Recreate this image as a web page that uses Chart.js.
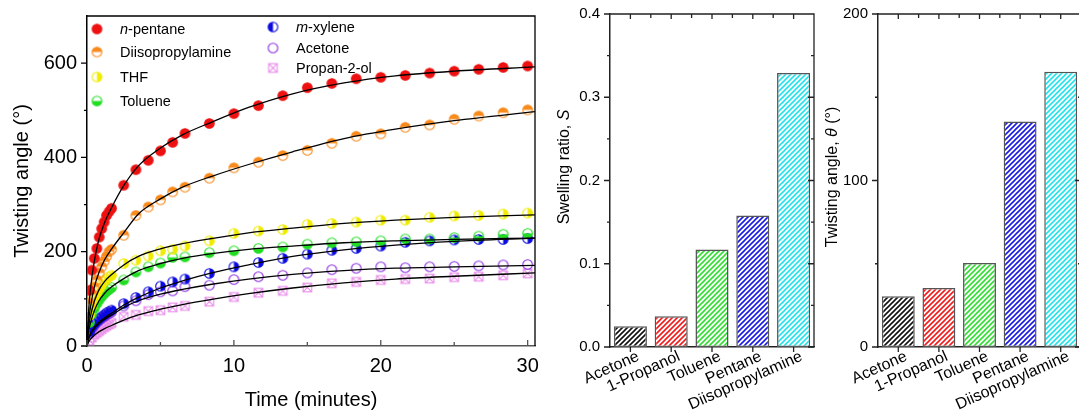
<!DOCTYPE html>
<html lang="en">
<head>
<meta charset="UTF-8">
<title>Twisting kinetics and swelling</title>
<script src="https://cdn.jsdelivr.net/npm/chart.js"></script>
<style>
  html, body { margin: 0; padding: 0; background: #fff; overflow: hidden; }
  canvas { position: absolute; top: 0; }
  #kinetics { left: 0; }
  #swell { left: 545px; }
  #twist { left: 815px; }
</style>
</head>
<body>
<canvas id="kinetics" width="545" height="414"></canvas>
<canvas id="swell" width="271" height="414"></canvas>
<canvas id="twist" width="268" height="414"></canvas>

<script>
// ---- data ----
const timeMin = [0.17, 0.33, 0.5, 0.67, 0.83, 1.0, 1.17, 1.33, 1.5, 1.67,
                 2.5, 3.33, 4.17, 5.0, 5.83, 6.67, 8.33, 10.0, 11.67, 13.33,
                 15.0, 16.67, 18.33, 20.0, 21.67, 23.33, 25.0, 26.67, 28.33, 30.0];
const pentane  = [118, 161, 186, 207, 231, 249, 263, 277, 285, 292,
                  341, 374, 394, 414, 432, 451, 472, 493, 510, 531,
                  548, 557, 567, 570, 574, 579, 583, 587, 591, 594];
const diiso    = [90, 110, 125, 140, 155, 168, 180, 190, 200, 205,
                  235, 277, 295, 310, 327, 337, 356, 378, 390, 404,
                  415, 430, 445, 450, 464, 469, 481, 488, 495, 501];
const thf      = [65, 85, 100, 112, 122, 130, 137, 142, 147, 150,
                  175, 182, 191, 202, 205, 212, 223, 239, 244, 247,
                  258, 260, 263, 267, 267, 273, 276, 277, 280, 282];
const toluene  = [50, 68, 80, 90, 98, 105, 111, 116, 120, 124,
                  140, 157, 168, 176, 188, 189, 198, 202, 207, 210,
                  216, 219, 221, 223, 227, 227, 230, 233, 237, 239];
const mXylene  = [30, 40, 47, 53, 58, 62, 66, 70, 73, 76,
                  90, 103, 115, 127, 136, 142, 154, 168, 177, 186,
                  195, 203, 207, 212, 220, 223, 225, 226, 226, 228];
const acetone  = [27, 37, 44, 50, 55, 59, 63, 66, 69, 72,
                  85, 96, 109, 115, 117, 126, 129, 141, 147, 150,
                  155, 162, 165, 168, 166, 168, 169, 170, 172, 173];
const propanol = [12, 18, 24, 28, 32, 36, 40, 43, 46, 49,
                  62, 66, 74, 76, 82, 85, 94, 104, 113, 117,
                  124, 133, 136, 140, 142, 143, 146, 147, 150, 154];

// fitted curves
const fitTime     = [0, 0.1, 0.25, 0.5, 0.8, 1.2, 1.7, 2.5, 3.5, 5, 6.5, 8.5, 11, 14, 17.5, 21, 25, 30.5];
const fitPentane  = [0, 70, 125, 180, 225, 262, 295, 340, 382, 420, 448, 475, 506, 535, 558, 573, 583, 592];
const fitDiiso    = [0, 50, 85, 125, 155, 183, 207, 240, 280, 312, 337, 360, 385, 412, 440, 460, 478, 497];
const fitThf      = [0, 40, 65, 95, 118, 137, 152, 172, 190, 206, 217, 228, 240, 250, 260, 267, 273, 278];
const fitToluene  = [0, 30, 50, 75, 95, 112, 126, 143, 160, 175, 186, 196, 205, 212, 219, 223, 226, 229];
const fitXylene   = [0, 15, 27, 40, 50, 60, 70, 87, 103, 123, 138, 155, 172, 190, 204, 214, 222, 229];
const fitAcetone  = [0, 14, 25, 37, 47, 57, 66, 82, 96, 110, 120, 131, 142, 152, 160, 165, 168, 171];
const fitPropanol = [0, 8, 15, 23, 30, 37, 44, 55, 66, 78, 88, 99, 111, 123, 134, 142, 148, 155];

const solvents      = ['Acetone', '1-Propanol', 'Toluene', 'Pentane', 'Diisopropylamine'];
const swellingRatio = [0.025, 0.037, 0.117, 0.158, 0.329];
const twistAngle    = [30.5, 35.5, 50.4, 135.4, 165.3];

const FONT = 'Liberation Sans, Arial, Helvetica, sans-serif';
Chart.defaults.font.family = FONT;
Chart.defaults.color = '#000';

// ---- markers ----
function marker(color, fill) {
  const s = 13, m = s / 2, r = 4.8;
  const c = document.createElement('canvas');
  c.width = s; c.height = s;
  const g = c.getContext('2d');
  g.fillStyle = color; g.strokeStyle = color; g.lineWidth = 1.1;
  if (fill === 'cross') {
    const h = 4.3;
    g.strokeRect(m - h, m - h, 2 * h, 2 * h);
    g.beginPath();
    g.moveTo(m - h, m - h); g.lineTo(m + h, m + h);
    g.moveTo(m + h, m - h); g.lineTo(m - h, m + h);
    g.stroke();
    return c;
  }
  const arcs = { full: [0, 2 * Math.PI], top: [Math.PI, 2 * Math.PI], bottom: [0, Math.PI],
                 left: [Math.PI / 2, 1.5 * Math.PI], right: [-Math.PI / 2, Math.PI / 2] };
  if (arcs[fill]) {
    g.beginPath();
    g.arc(m, m, r, arcs[fill][0], arcs[fill][1]);
    g.closePath();
    g.fill();
  }
  g.beginPath();
  g.arc(m, m, r, 0, 2 * Math.PI);
  g.stroke();
  return c;
}

const series = [
  { name: [['n', true], ['-pentane', false]], data: pentane, fit: fitPentane, color: '#ee1111', fill: 'full', lfill: 'full' },
  { name: [['Diisopropylamine', false]], data: diiso, fit: fitDiiso, color: '#f98a1c', fill: 'top', lfill: 'top' },
  { name: [['THF', false]], data: thf, fit: fitThf, color: '#f0ec00', fill: 'right', lfill: 'right' },
  { name: [['Toluene', false]], data: toluene, fit: fitToluene, color: '#22dd22', fill: 'bottom', lfill: 'bottom' },
  { name: [['m', true], ['-xylene', false]], data: mXylene, fit: fitXylene, color: '#0a0ae0', fill: 'right', lfill: 'left' },
  { name: [['Acetone', false]], data: acetone, fit: fitAcetone, color: '#8a2be2', fill: 'none', lfill: 'none' },
  { name: [['Propan-2-ol', false]], data: propanol, fit: fitPropanol, color: '#e88ae8', fill: 'cross', lfill: 'cross' }
];

const datasets = [];
series.forEach(s => {
  datasets.push({
    data: fitTime.map((t, i) => ({ x: t, y: s.fit[i] })),
    showLine: true, pointRadius: 0, borderColor: '#000', borderWidth: 1.3,
    cubicInterpolationMode: 'monotone', order: 0
  });
  datasets.push({
    data: timeMin.map((t, i) => ({ x: t, y: s.data[i] })),
    showLine: false, pointStyle: marker(s.color, s.fill), order: 1
  });
});

function runsText(ctx, runs, x, y, size) {
  let cx = x;
  runs.forEach(([t, it]) => {
    ctx.font = (it ? 'italic ' : '') + size + 'px ' + FONT;
    ctx.fillText(t, cx, y);
    cx += ctx.measureText(t).width;
  });
}
function runsWidth(ctx, runs, size) {
  let w = 0;
  runs.forEach(([t, it]) => {
    ctx.font = (it ? 'italic ' : '') + size + 'px ' + FONT;
    w += ctx.measureText(t).width;
  });
  return w;
}

// fixed axis sizes, no label overhang padding
function fixWidth(w) {
  return s => { s.width = w; s.paddingTop = 0; s.paddingBottom = 0; };
}
function fixHeight(h) {
  return s => { s.height = h; s.paddingLeft = 0; s.paddingRight = 0; };
}

const kineticsDecor = {
  id: 'kineticsDecor',
  afterDraw(chart) {
    const { ctx, chartArea: a, scales: { x, y } } = chart;
    ctx.save();
    ctx.lineWidth = 1.3;
    ctx.strokeStyle = '#000';
    ctx.beginPath();
    for (let v = 0; v <= 600; v += 100) {
      const py = y.getPixelForValue(v);
      const len = v % 200 === 0 ? 6 : 3;
      ctx.moveTo(a.left - len, py); ctx.lineTo(a.left, py);
    }
    ctx.moveTo(a.left, a.top); ctx.lineTo(a.right, a.top); ctx.lineTo(a.right, a.bottom);
    ctx.stroke();
    ctx.strokeStyle = '#555';
    ctx.beginPath();
    for (let v = 0; v <= 30; v += 5) {
      const px = x.getPixelForValue(v);
      const len = v % 10 === 0 ? 6 : 4;
      ctx.moveTo(px, a.bottom); ctx.lineTo(px, a.bottom - len);
    }
    ctx.stroke();

    // legend
    const rows = [[97, 29], [97, 52], [97, 77], [97, 101], [273, 27], [273, 48], [273, 68]];
    ctx.fillStyle = '#000';
    ctx.textBaseline = 'middle';
    series.forEach((s, i) => {
      const [mx, my] = rows[i];
      ctx.drawImage(marker(s.color, s.lfill), mx - 6.5, my - 6.5);
      ctx.fillStyle = '#000';
      runsText(ctx, s.name, mx + 23, my + 1, 14.5);
    });
    ctx.restore();
  }
};

new Chart(document.getElementById('kinetics'), {
  type: 'scatter',
  data: { datasets },
  options: {
    responsive: false, animation: false, events: [],
    layout: { padding: { top: 16, right: 10, left: 0, bottom: 0 } },
    plugins: { legend: { display: false }, tooltip: { enabled: false } },
    scales: {
      x: {
        type: 'linear', min: 0, max: 30.5,
        afterFit: fixHeight(68),
        ticks: { stepSize: 10, includeBounds: false, font: { size: 20 }, color: '#000', padding: 8, maxRotation: 0 },
        grid: { display: false, drawTicks: false },
        border: { color: '#555', width: 1.5 },
        title: { display: true, text: 'Time (minutes)', font: { size: 20 }, color: '#000', padding: { top: 0, bottom: 2 } }
      },
      y: {
        min: 0, max: 700,
        afterFit: fixWidth(87),
        ticks: { stepSize: 200, includeBounds: false, font: { size: 20 }, color: '#000', padding: 10 },
        grid: { display: false, drawTicks: false },
        border: { color: '#000', width: 1.5 },
        title: { display: true, text: 'Twisting angle (°)', font: { size: 20 }, color: '#000', padding: { top: 10, bottom: 0 } }
      }
    }
  },
  plugins: [kineticsDecor]
});

// ---- bar charts ----
function hatch(ctx, color) {
  const s = 5;
  const c = document.createElement('canvas');
  c.width = s; c.height = s;
  const g = c.getContext('2d');
  g.fillStyle = '#fff'; g.fillRect(0, 0, s, s);
  g.strokeStyle = color; g.lineWidth = 1.6;
  g.beginPath();
  g.moveTo(0, s); g.lineTo(s, 0);
  g.moveTo(-1, 1); g.lineTo(1, -1);
  g.moveTo(s - 1, s + 1); g.lineTo(s + 1, s - 1);
  g.stroke();
  return ctx.createPattern(c, 'repeat');
}
const barColors = ['#111111', '#ee1c1c', '#33dd33', '#1a1ae0', '#22e2ea'];

function barChart(id, values, yMax, minor, decimals, yWidth, padRight, titleRuns, titleX, titleY) {
  const el = document.getElementById(id);
  const ctx = el.getContext('2d');
  const deco = {
    id: 'barDeco',
    afterDraw(chart) {
      const { ctx, chartArea: a, scales: { x, y } } = chart;
      ctx.save();
      ctx.strokeStyle = '#222';
      ctx.lineWidth = 1.3;
      ctx.beginPath();
      ctx.moveTo(a.left, a.top); ctx.lineTo(a.right, a.top); ctx.lineTo(a.right, a.bottom);
      const nMinor = Math.round(yMax / minor);
      for (let k = 0; k <= nMinor; k++) {
        const py = y.getPixelForValue(k * minor);
        const len = k % 2 === 0 ? 6 : 3;
        ctx.moveTo(a.left - len, py); ctx.lineTo(a.left, py);
        ctx.moveTo(a.right, py); ctx.lineTo(a.right - len, py);
      }
      for (let i = 0; i < values.length; i++) {
        const px = x.getPixelForValue(i);
        ctx.moveTo(px, a.bottom); ctx.lineTo(px, a.bottom + 5);
        ctx.moveTo(px, a.top); ctx.lineTo(px, a.top + 5);
        if (i > 0) {
          const pb = x.getPixelForValue(i - 0.5);
          ctx.moveTo(pb, a.top); ctx.lineTo(pb, a.top + 4);
        }
      }
      ctx.stroke();
      ctx.translate(titleX, titleY);
      ctx.rotate(-Math.PI / 2);
      ctx.fillStyle = '#000';
      ctx.textBaseline = 'middle';
      const w = runsWidth(ctx, titleRuns, 16);
      runsText(ctx, titleRuns, -w / 2, 0, 16);
      ctx.restore();
    }
  };
  return new Chart(el, {
    type: 'bar',
    data: {
      labels: solvents,
      datasets: [{
        data: values,
        backgroundColor: barColors.map(c => hatch(ctx, c)),
        borderColor: '#555', borderWidth: 1.5, borderSkipped: false,
        barPercentage: 0.81, categoryPercentage: 1
      }]
    },
    options: {
      responsive: false, animation: false, events: [],
      layout: { padding: { top: 14, right: padRight, left: 0, bottom: 0 } },
      plugins: { legend: { display: false }, tooltip: { enabled: false } },
      scales: {
        x: {
          afterFit: fixHeight(67),
          ticks: { minRotation: 24, maxRotation: 24, font: { size: 16 }, color: '#000', padding: 0, labelOffset: 8, autoSkip: false },
          grid: { display: false, drawTicks: false },
          border: { color: '#222', width: 1.5 }
        },
        y: {
          min: 0, max: yMax,
          afterFit: fixWidth(yWidth),
          ticks: { stepSize: minor * 2, includeBounds: false, font: { size: 15 }, color: '#000', padding: 10,
                   callback: v => Number(v).toFixed(decimals) },
          grid: { display: false, drawTicks: false },
          border: { color: '#222', width: 1.5 }
        }
      }
    },
    plugins: [deco]
  });
}

barChart('swell', swellingRatio, 0.4, 0.05, 1, 65, 2,
         [['Swelling ratio, ', false], ['S', true]], 20, 167);
barChart('twist', twistAngle, 200, 50, 0, 63, 2,
         [['Twisting angle, ', false], ['θ', true], [' (°)', false]], 18, 177);
</script>
</body>
</html>
